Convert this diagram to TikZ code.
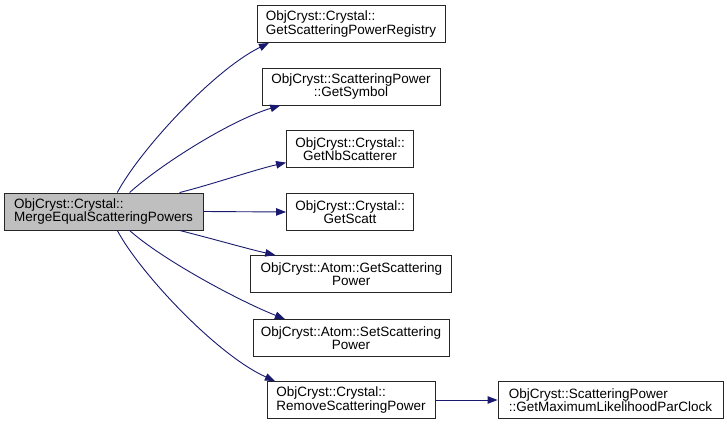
\documentclass[tikz,border=0pt]{standalone}
\usepackage{fontspec}
\setmainfont{Liberation Sans}
\usepackage{xcolor}
\usepackage{tikz}
\usetikzlibrary{arrows.meta,positioning}
\definecolor{edgeblue}{RGB}{25,25,112}

\begin{document}
\begin{tikzpicture}[x=1pt,y=-1pt,
    fn/.style={draw=black!85,line width=0.9pt,rectangle,minimum height=37pt,
      inner sep=0pt,font=\fontsize{13.5}{13.5}\selectfont},
    call/.style={draw=edgeblue,line width=0.9pt,-{Triangle[length=10pt,width=7.5pt]}}]
  \useasboundingbox (0,0) rectangle (727,425);
  \node[fn,fill=black!25,align=left,minimum width=199pt] (main) at (103.5,211.5)
    {ObjCryst::Crystal::\\MergeEqualScatteringPowers};
  \node[fn,align=left,minimum width=188pt] (reg) at (351,24)
    {ObjCryst::Crystal::\\GetScatteringPowerRegistry};
  \node[fn,align=center,minimum width=178pt] (sym) at (351,86.5)
    {ObjCryst::ScatteringPower\\::GetSymbol};
  \node[fn,align=center,minimum width=127pt] (nbsc) at (350,149)
    {ObjCryst::Crystal::\\GetNbScatterer};
  \node[fn,align=center,minimum width=127pt] (scatt) at (350,212)
    {ObjCryst::Crystal::\\GetScatt};
  \node[fn,align=center,minimum width=201pt] (getsp) at (351.3,274)
    {ObjCryst::Atom::GetScattering\\Power};
  \node[fn,align=center,minimum width=196pt] (setsp) at (351,338)
    {ObjCryst::Atom::SetScattering\\Power};
  \node[fn,align=left,minimum width=168pt] (remsp) at (351,400)
    {ObjCryst::Crystal::\\RemoveScatteringPower};
  \node[fn,align=left,minimum width=225pt] (maxlik) at (610.5,400)
    {ObjCryst::ScatteringPower\\::GetMaximumLikelihoodParClock};

  \draw[call] (main.54) .. controls +(23,-43) and +(-55,27) .. (reg.193);
  \draw[call] (main.36) .. controls +(31,-28) and +(-50,15) .. (sym.195);
  \draw[call] (main.14) .. controls +(32,-8) and +(-31,7) .. (nbsc.192);
  \draw[call] (main.east) -- (scatt.west);
  \draw[call] (main.-14) .. controls +(32,8) and +(-27,-6) .. (getsp.166);
  \draw[call] (main.-36) .. controls +(31,28) and +(-48,-19) .. (setsp.164);
  \draw[call] (main.-54) .. controls +(23,43) and +(-58,-26) .. (remsp.166);
  \draw[call] (remsp.east) -- (maxlik.west);
\end{tikzpicture}
\end{document}
